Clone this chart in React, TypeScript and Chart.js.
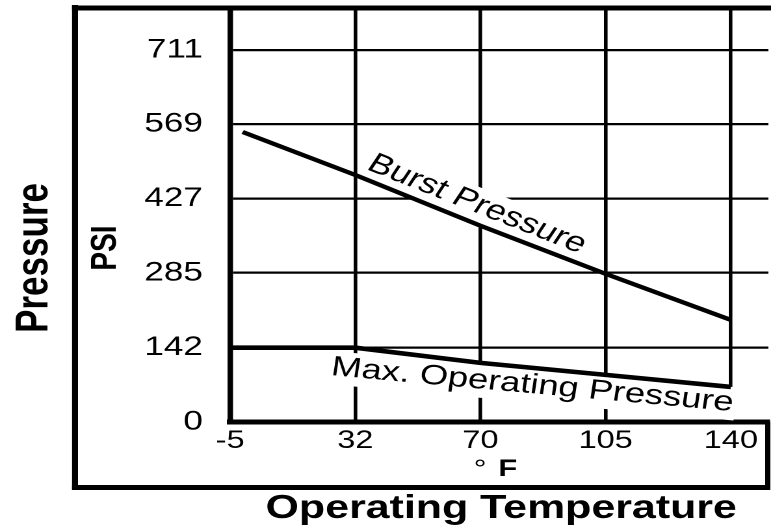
import React, { useEffect, useRef } from 'react';
import { Chart, registerables } from 'chart.js';

Chart.register(...registerables);

// ---- data ----
const TEMPERATURES_F = ['-5', '32', '70', '105', '140']; // evenly spaced x tick labels
const PSI_TICKS = [0, 142, 285, 427, 569, 711];
const BURST_AT = [0.1, 1, 2, 3, 4]; // position on the temperature axis (tick index)
const BURST_PSI = [554, 472, 375, 283, 195];
const MAX_OP_AT = [0, 1, 2, 3, 4];
const MAX_OP_PSI = [142, 142, 113, 90, 67];

// ---- layout ----
// The scanned original is stretched horizontally; draw on a narrower canvas and stretch it.
const CANVAS_W = 593;
const CANVAS_H = 526;
const DISPLAY_W = 771;
const X_MAX = 4.3;
const Y_MAX = 791;
const FONT = '"Liberation Sans", Arial, Helvetica, sans-serif';

function drawBoxedLabel(ctx: CanvasRenderingContext2D, text: string, x: number, y: number, ang: number, size: number) {
  ctx.save();
  ctx.translate(x, y);
  ctx.rotate(ang);
  ctx.font = `${size}px ${FONT}`;
  const w = ctx.measureText(text).width;
  ctx.fillStyle = '#fff';
  ctx.fillRect(-3, -size * 0.75 - 3, w + 5, size * 0.97 + 6);
  ctx.fillStyle = '#000';
  ctx.textAlign = 'left';
  ctx.textBaseline = 'alphabetic';
  ctx.fillText(text, 0, 0);
  ctx.restore();
}

function drawRotated(ctx: CanvasRenderingContext2D, text: string, cx: number, cy: number, size: number) {
  ctx.save();
  ctx.translate(cx, cy);
  ctx.rotate(-Math.PI / 2);
  ctx.font = `bold ${size}px ${FONT}`;
  ctx.fillStyle = '#000';
  ctx.textAlign = 'center';
  ctx.textBaseline = 'alphabetic';
  ctx.fillText(text, 0, size * 0.358);
  ctx.restore();
}

const decorPlugin = {
  id: 'decor',
  beforeDatasetsDraw(chart: any) {
    const ctx = chart.ctx as CanvasRenderingContext2D;
    const xs = chart.scales.x;
    const burst = chart.getDatasetMeta(0).data;
    const maxop = chart.getDatasetMeta(1).data;

    // "Burst Pressure" runs parallel to its line, just above it
    const a = burst[1], b = burst[3];
    const ang = Math.atan2(b.y - a.y, b.x - a.x);
    const bx = xs.getPixelForValue(1.08);
    const by = a.y + (bx - a.x) * Math.tan(ang) - 10;
    drawBoxedLabel(ctx, 'Burst Pressure', bx, by, ang, 28);

    // "Max. Operating Pressure" below its line
    const c = maxop[1], d = maxop[4];
    const slope = (d.y - c.y) / (d.x - c.x);
    const sx = xs.getPixelForValue(0.8);
    const sy = c.y + (sx - c.x) * slope + 30;
    const ex = xs.getPixelForValue(4.03);
    const ey = c.y + (ex - c.x) * slope + 24;
    drawBoxedLabel(ctx, 'Max. Operating Pressure', sx, sy, Math.atan2(ey - sy, ex - sx), 28);
  },
  afterDraw(chart: any) {
    const ctx = chart.ctx as CanvasRenderingContext2D;
    const ca = chart.chartArea;
    ctx.save();
    ctx.strokeStyle = '#000';
    ctx.lineCap = 'butt';
    // outer frame
    ctx.lineWidth = 4.6;
    ctx.beginPath();
    ctx.moveTo(57.7, ca.top - 3);
    ctx.lineTo(57.7, 490);
    ctx.stroke();
    ctx.lineWidth = 5;
    ctx.beginPath();
    ctx.moveTo(55.4, ca.top);
    ctx.lineTo(CANVAS_W, ca.top);
    ctx.stroke();
    ctx.beginPath();
    ctx.moveTo(55.4, 487.5);
    ctx.lineTo(ca.right + 1.5, 487.5);
    ctx.stroke();
    ctx.lineWidth = 4;
    ctx.beginPath();
    ctx.moveTo(ca.right - 0.5, ca.bottom);
    ctx.lineTo(ca.right - 0.5, 490);
    ctx.stroke();

    // titles
    ctx.fillStyle = '#000';
    ctx.textBaseline = 'alphabetic';
    ctx.textAlign = 'center';
    ctx.font = `25px ${FONT}`;
    ctx.fillText('°', 369.2, 477);
    ctx.textAlign = 'left';
    ctx.font = `bold 24px ${FONT}`;
    ctx.fillText('F', 383.3, 476);
    ctx.textAlign = 'center';
    ctx.font = `bold 33px ${FONT}`;
    ctx.fillText('Operating Temperature', 385.5, 518);
    ctx.restore();

    drawRotated(ctx, 'PSI', 79.2, 248, 28);
    drawRotated(ctx, 'Pressure', 24, 258, 35);
  },
};

export default function App() {
  const ref = useRef<HTMLCanvasElement | null>(null);

  useEffect(() => {
    const canvas = ref.current;
    if (!canvas) return;
    const chart = new Chart(canvas, {
      type: 'line',
      data: {
        datasets: [
          {
            label: 'Burst Pressure',
            data: BURST_AT.map((x, i) => ({ x, y: BURST_PSI[i] })),
            borderColor: '#000',
            borderWidth: 4.2,
            pointRadius: 0,
            pointHoverRadius: 0,
            tension: 0,
            fill: false,
          },
          {
            label: 'Max. Operating Pressure',
            data: MAX_OP_AT.map((x, i) => ({ x, y: MAX_OP_PSI[i] })),
            borderColor: '#000',
            borderWidth: 4.6,
            pointRadius: 0,
            pointHoverRadius: 0,
            tension: 0,
            fill: false,
          },
        ],
      },
      options: {
        responsive: false,
        animation: false,
        devicePixelRatio: 2,
        layout: { padding: { left: 62, right: 2, top: 8, bottom: 64 } },
        plugins: {
          legend: { display: false },
          tooltip: { enabled: false },
          title: { display: false },
        },
        scales: {
          x: {
            type: 'linear',
            min: 0,
            max: X_MAX,
            afterBuildTicks: (s: any) => {
              s.ticks = TEMPERATURES_F.map((_, i) => ({ value: i }));
            },
            afterFit: (s: any) => {
              s.height = 40;
              s.paddingLeft = 0;
              s.paddingRight = 0;
            },
            ticks: {
              autoSkip: false,
              maxRotation: 0,
              padding: 4,
              color: '#000',
              font: { family: FONT, size: 25 },
              callback: (_v: any, i: number) => TEMPERATURES_F[i],
            },
            grid: { color: '#000', lineWidth: 2.8, drawTicks: false },
            border: { color: '#000', width: 5 },
          },
          y: {
            type: 'linear',
            min: 0,
            max: Y_MAX,
            afterBuildTicks: (s: any) => {
              s.ticks = PSI_TICKS.map((v) => ({ value: v }));
            },
            afterFit: (s: any) => {
              s.width = 115;
              s.paddingTop = 0;
              s.paddingBottom = 0;
            },
            ticks: {
              padding: 21,
              color: '#000',
              font: { family: FONT, size: 27 },
              callback: (v: any) => String(v),
            },
            grid: { color: '#000', lineWidth: 2.2, drawTicks: false },
            border: { color: '#000', width: 4.2 },
          },
        },
      },
      plugins: [decorPlugin],
    } as any);
    return () => chart.destroy();
  }, []);

  return (
    <div style={{ position: 'absolute', left: 0, top: 0, width: DISPLAY_W, height: CANVAS_H, background: '#fff' }}>
      <canvas
        ref={ref}
        width={CANVAS_W}
        height={CANVAS_H}
        style={{ width: DISPLAY_W + 'px', height: CANVAS_H + 'px', display: 'block' }}
      />
    </div>
  );
}
